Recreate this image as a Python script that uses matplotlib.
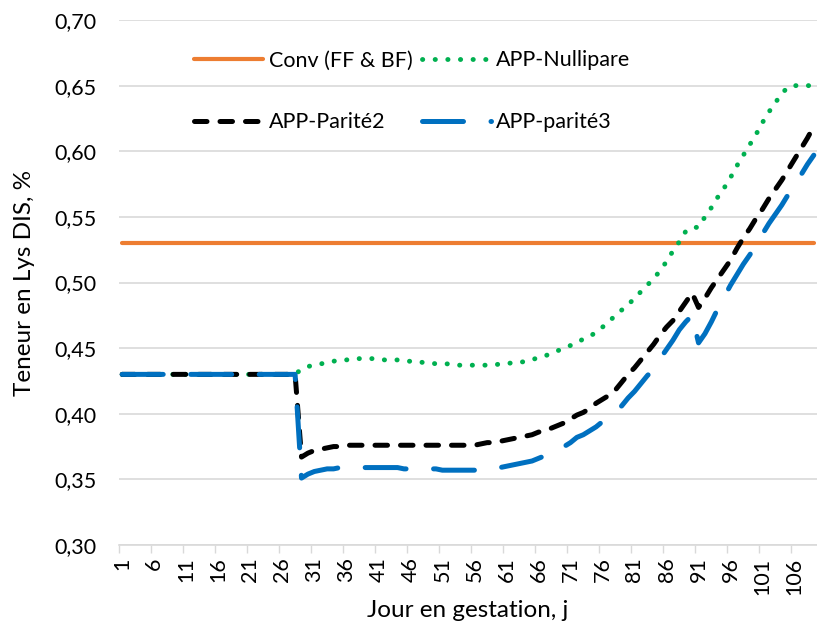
import matplotlib
matplotlib.use("Agg")
import matplotlib.pyplot as plt

# gestation days 1..109
days = list(range(1, 110))

conv = [0.53] * 109

# APP-Nullipare
nullipare = [0.43] * 28 + [
    0.434, 0.436, 0.437, 0.438, 0.439, 0.440, 0.441, 0.441, 0.442, 0.442,   # 29-38
    0.442, 0.442, 0.442, 0.441, 0.441, 0.441, 0.440, 0.440, 0.440, 0.439,   # 39-48
    0.439, 0.438, 0.438, 0.438, 0.437, 0.437, 0.437, 0.437, 0.437, 0.437,   # 49-58
    0.437, 0.438, 0.438, 0.439, 0.439, 0.440, 0.441, 0.443, 0.444, 0.446,   # 59-68
    0.448, 0.450, 0.452, 0.454, 0.457, 0.459, 0.462, 0.466, 0.470, 0.475,   # 69-78
    0.479, 0.483, 0.488, 0.493, 0.498, 0.503, 0.509, 0.516, 0.524, 0.531,   # 79-88
    0.539, 0.542, 0.542, 0.550, 0.557, 0.565, 0.572, 0.580, 0.589, 0.597,   # 89-98
    0.605, 0.613, 0.622, 0.630, 0.637, 0.644, 0.649, 0.650, 0.650, 0.650,   # 99-108
    0.650]                                                                  # 109

# APP-Parité2
parite2 = [0.43] * 28 + [
    0.367, 0.370, 0.372, 0.373, 0.374, 0.375, 0.375, 0.376, 0.376, 0.376,   # 29-38
    0.376, 0.376, 0.376, 0.376, 0.376, 0.376, 0.376, 0.376, 0.376, 0.376,   # 39-48
    0.376, 0.376, 0.376, 0.376, 0.376, 0.376, 0.376, 0.376, 0.377, 0.378,   # 49-58
    0.378, 0.379, 0.380, 0.381, 0.382, 0.383, 0.384, 0.386, 0.387, 0.389,   # 59-68
    0.391, 0.393, 0.396, 0.399, 0.401, 0.404, 0.408, 0.411, 0.414, 0.418,   # 69-78
    0.424, 0.430, 0.435, 0.441, 0.447, 0.453, 0.460, 0.466, 0.471, 0.478,   # 79-88
    0.485, 0.492, 0.481, 0.488, 0.496, 0.503, 0.510, 0.517, 0.526, 0.534,   # 89-98
    0.541, 0.549, 0.556, 0.564, 0.571, 0.578, 0.586, 0.594, 0.602, 0.610,   # 99-108
    0.619]                                                                  # 109

# APP-parité3
parite3 = [0.43] * 28 + [
    0.351, 0.354, 0.356, 0.357, 0.358, 0.358, 0.359, 0.359, 0.359, 0.359,   # 29-38
    0.359, 0.359, 0.359, 0.359, 0.359, 0.359, 0.358, 0.358, 0.358, 0.358,   # 39-48
    0.358, 0.358, 0.357, 0.357, 0.357, 0.357, 0.357, 0.357, 0.357, 0.358,   # 49-58
    0.358, 0.359, 0.360, 0.361, 0.362, 0.363, 0.364, 0.366, 0.368, 0.370,   # 59-68
    0.372, 0.375, 0.378, 0.382, 0.384, 0.387, 0.390, 0.394, 0.397, 0.401,   # 69-78
    0.406, 0.412, 0.417, 0.423, 0.429, 0.434, 0.442, 0.449, 0.456, 0.464,   # 79-88
    0.470, 0.475, 0.454, 0.461, 0.470, 0.480, 0.489, 0.498, 0.506, 0.514,   # 89-98
    0.521, 0.529, 0.537, 0.545, 0.552, 0.559, 0.567, 0.574, 0.582, 0.590,   # 99-108
    0.597]                                                                  # 109

labels = ["Conv (FF & BF)", "APP-Nullipare", "APP-Parité2", "APP-parité3"]
colors = ["#ED7D31", "#00B050", "#000000", "#0070C0"]

x_ticks = list(range(1, 110, 5))
x_ticklabels = [str(d) for d in x_ticks]
y_ticks = [0.30, 0.35, 0.40, 0.45, 0.50, 0.55, 0.60, 0.65, 0.70]
y_ticklabels = ["0,30", "0,35", "0,40", "0,45", "0,50", "0,55", "0,60", "0,65", "0,70"]

plt.rcParams['font.family'] = ['Lato', 'DejaVu Sans']

fig = plt.figure(figsize=(8.17, 6.34), dpi=100)
ax = fig.add_axes([119 / 817, 89 / 634, 698 / 817, 525 / 634])

lw = 3.6
l_conv, = ax.plot(days, conv, color=colors[0], lw=3.0, solid_capstyle='round')
l_null, = ax.plot(days, nullipare, color=colors[1], lw=3.5,
                  dashes=(0.05, 2.55), dash_capstyle='round')
l_p2, = ax.plot(days, parite2, color=colors[2], lw=lw,
                dashes=(2.5, 2.6), dash_capstyle='round')
l_p3, = ax.plot(days, parite3, color=colors[3], lw=lw,
                dashes=(8.2, 5.5), dash_capstyle='round')

ax.set_xlim(0.5, 109.5)
ax.set_ylim(0.30, 0.70)

ax.set_yticks(y_ticks)
ax.set_yticklabels(y_ticklabels)
ax.set_xticks(x_ticks)
ax.set_xticklabels(x_ticklabels, rotation=90)
ax.set_xticks([0.5 + 5 * k for k in range(22)], minor=True)

ax.tick_params(axis='y', length=0, pad=16, labelsize=15.5)
ax.tick_params(axis='x', which='major', length=0, pad=9, labelsize=15.5)
ax.tick_params(axis='x', which='minor', length=6, width=1, color='#d9d9d9')

ax.grid(axis='y', color='#d9d9d9', lw=1.2)
ax.set_axisbelow(True)
for s in ['top', 'right', 'left']:
    ax.spines[s].set_visible(False)
ax.spines['bottom'].set_color('#d9d9d9')
ax.spines['bottom'].set_linewidth(1.2)

ax.set_xlabel("Jour en gestation, j", fontsize=17.5, labelpad=4)
ax.set_ylabel("Teneur en Lys DIS, %", fontsize=17.5, labelpad=14)

# legend: column-major order in matplotlib
leg = ax.legend([l_conv, l_p2, l_null, l_p3],
                [labels[0], labels[2], labels[1], labels[3]],
                ncol=2, frameon=False, fontsize=15.5,
                loc='upper left', bbox_to_anchor=(175 / 817, 1 - 31 / 634),
                bbox_transform=fig.transFigure,
                handlelength=3.2, handletextpad=0.25, columnspacing=0.45,
                labelspacing=1.95)

fig.savefig("out.png", dpi=100)
